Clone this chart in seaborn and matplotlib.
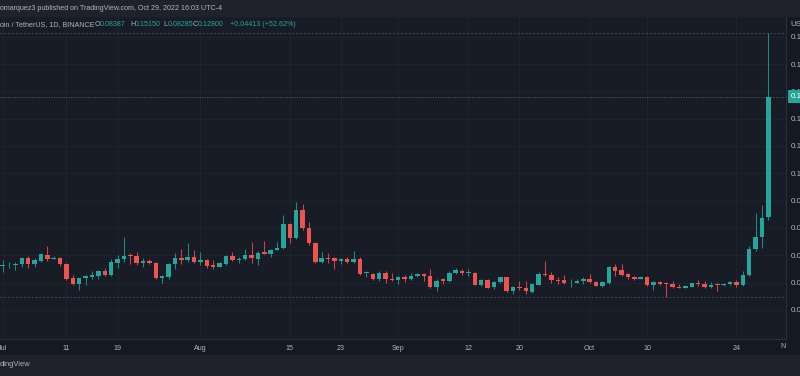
import matplotlib
matplotlib.use("Agg")
import numpy as np
import pandas as pd
import matplotlib.pyplot as plt
import matplotlib.transforms as mtransforms
import seaborn as sns

# daily candles, Jul 1 -> Oct 29 2022
opens = [0.0661, 0.0663, 0.0663, 0.0668, 0.0691, 0.0668, 0.0680, 0.0702, 0.0687, 0.0690,
         0.0669, 0.0616, 0.0594, 0.0617, 0.0622, 0.0624, 0.0642, 0.0627, 0.0672, 0.0686,
         0.0701, 0.0697, 0.0671, 0.0679, 0.0673, 0.0617, 0.0622, 0.0669, 0.0689, 0.0684,
         0.0694, 0.0677, 0.0683, 0.0663, 0.0658, 0.0668, 0.0696, 0.0683, 0.0686, 0.0700,
         0.0687, 0.0711, 0.0705, 0.0720, 0.0726, 0.0816, 0.0762, 0.0866, 0.0800, 0.0746,
         0.0674, 0.0690, 0.0690, 0.0680, 0.0686, 0.0674, 0.0687, 0.0634, 0.0633, 0.0614,
         0.0636, 0.0613, 0.0610, 0.0622, 0.0612, 0.0624, 0.0630, 0.0624, 0.0585, 0.0612,
         0.0607, 0.0636, 0.0643, 0.0635, 0.0636, 0.0592, 0.0610, 0.0583, 0.0601, 0.0619,
         0.0571, 0.0585, 0.0581, 0.0567, 0.0592, 0.0633, 0.0629, 0.0610, 0.0610, 0.0601,
         0.0600, 0.0607, 0.0614, 0.0603, 0.0589, 0.0599, 0.0657, 0.0645, 0.0631, 0.0620,
         0.0613, 0.0620, 0.0591, 0.0601, 0.0596, 0.0594, 0.0585, 0.0581, 0.0585, 0.0597,
         0.0596, 0.0584, 0.0594, 0.0590, 0.0595, 0.0602, 0.0590, 0.0627, 0.0723, 0.0766,
         0.08387]
highs = [0.0683, 0.0677, 0.0677, 0.0694, 0.0697, 0.0689, 0.0707, 0.0734, 0.0697, 0.0694,
         0.0673, 0.0627, 0.0618, 0.0629, 0.0642, 0.0646, 0.0652, 0.0686, 0.0701, 0.0768,
         0.0707, 0.0713, 0.0691, 0.0686, 0.0677, 0.0627, 0.0672, 0.0707, 0.0722, 0.0744,
         0.0719, 0.0713, 0.0687, 0.0683, 0.0674, 0.0701, 0.0713, 0.0694, 0.0724, 0.0749,
         0.0716, 0.0753, 0.0722, 0.0749, 0.0848, 0.0819, 0.0894, 0.0888, 0.0821, 0.0749,
         0.0711, 0.0707, 0.0694, 0.0691, 0.0694, 0.0717, 0.0694, 0.0642, 0.0636, 0.0641,
         0.0641, 0.0634, 0.0624, 0.0628, 0.0636, 0.0636, 0.0634, 0.0650, 0.0612, 0.0616,
         0.0641, 0.0652, 0.0651, 0.0651, 0.0640, 0.0614, 0.0612, 0.0606, 0.0622, 0.0622,
         0.0588, 0.0605, 0.0607, 0.0600, 0.0639, 0.0680, 0.0638, 0.0619, 0.0629, 0.0612,
         0.0612, 0.0619, 0.0631, 0.0607, 0.0605, 0.0662, 0.0667, 0.0667, 0.0636, 0.0624,
         0.0623, 0.0624, 0.0607, 0.0606, 0.0603, 0.0607, 0.0594, 0.0590, 0.0600, 0.0610,
         0.0606, 0.0601, 0.0597, 0.0600, 0.0607, 0.0608, 0.0641, 0.0735, 0.0854, 0.0884,
         0.15150]
lows = [0.0638, 0.0652, 0.0646, 0.0658, 0.0652, 0.0658, 0.0677, 0.0679, 0.0685, 0.0662,
        0.0610, 0.0590, 0.0572, 0.0592, 0.0614, 0.0614, 0.0624, 0.0624, 0.0654, 0.0674,
        0.0667, 0.0664, 0.0658, 0.0668, 0.0613, 0.0597, 0.0614, 0.0650, 0.0668, 0.0677,
        0.0671, 0.0664, 0.0652, 0.0650, 0.0656, 0.0664, 0.0679, 0.0672, 0.0683, 0.0673,
        0.0664, 0.0705, 0.0694, 0.0719, 0.0722, 0.0744, 0.0760, 0.0792, 0.0738, 0.0671,
        0.0671, 0.0673, 0.0649, 0.0668, 0.0671, 0.0671, 0.0628, 0.0619, 0.0610, 0.0607,
        0.0597, 0.0607, 0.0595, 0.0603, 0.0610, 0.0622, 0.0607, 0.0579, 0.0571, 0.0594,
        0.0603, 0.0630, 0.0628, 0.0624, 0.0590, 0.0589, 0.0579, 0.0578, 0.0597, 0.0567,
        0.0558, 0.0573, 0.0558, 0.0563, 0.0590, 0.0624, 0.0597, 0.0594, 0.0596, 0.0583,
        0.0597, 0.0594, 0.0597, 0.0588, 0.0585, 0.0596, 0.0625, 0.0624, 0.0612, 0.0610,
        0.0612, 0.0589, 0.0573, 0.0591, 0.0548, 0.0579, 0.0579, 0.0579, 0.0584, 0.0589,
        0.0581, 0.0581, 0.0569, 0.0589, 0.0591, 0.0585, 0.0588, 0.0624, 0.0717, 0.0725,
        0.08285]
closes = [0.0663, 0.0664, 0.0669, 0.0691, 0.0668, 0.0683, 0.0703, 0.0687, 0.0691, 0.0668,
          0.0614, 0.0594, 0.0617, 0.0623, 0.0628, 0.0642, 0.0627, 0.0674, 0.0686, 0.0698,
          0.0697, 0.0671, 0.0679, 0.0673, 0.0616, 0.0623, 0.0669, 0.0689, 0.0684, 0.0694,
          0.0677, 0.0683, 0.0662, 0.0658, 0.0671, 0.0696, 0.0683, 0.0686, 0.0700, 0.0689,
          0.0710, 0.0706, 0.0719, 0.0728, 0.0816, 0.0762, 0.0866, 0.0799, 0.0745, 0.0674,
          0.0690, 0.0687, 0.0680, 0.0685, 0.0674, 0.0686, 0.0631, 0.0637, 0.0614, 0.0636,
          0.0612, 0.0610, 0.0620, 0.0613, 0.0625, 0.0630, 0.0624, 0.0585, 0.0607, 0.0607,
          0.0636, 0.0645, 0.0634, 0.0639, 0.0592, 0.0610, 0.0581, 0.0602, 0.0619, 0.0571,
          0.0583, 0.0579, 0.0568, 0.0595, 0.0631, 0.0627, 0.0608, 0.0606, 0.0599, 0.0603,
          0.0607, 0.0614, 0.0602, 0.0589, 0.0601, 0.0657, 0.0643, 0.0629, 0.0619, 0.0613,
          0.0620, 0.0591, 0.0601, 0.0594, 0.0594, 0.0585, 0.0581, 0.0588, 0.0597, 0.0594,
          0.0584, 0.0592, 0.0590, 0.0596, 0.0602, 0.0590, 0.0628, 0.0723, 0.0767, 0.0838,
          0.12800]

tick_dates = ["2022-07-01", "2022-07-11", "2022-07-19", "2022-08-01", "2022-08-15", "2022-08-23",
              "2022-09-01", "2022-09-12", "2022-09-20", "2022-10-01", "2022-10-10", "2022-10-24"]
tick_labels = ["Jul", "11", "19", "Aug", "15", "23", "Sep", "12", "20", "Oct", "10", "24"]
price_ticks = [0.05, 0.06, 0.07, 0.08, 0.09, 0.10, 0.11, 0.12, 0.13, 0.14, 0.15]

BG = "#181c27"
PANEL = "#1f222d"
AXIS_BG = "#151924"
GRID = "#20242f"
TXT = "#b2b5be"
UP = "#26a69a"
DOWN = "#ef5350"
FS = 5.1

sns.set_theme(style="dark", rc={"axes.facecolor": BG, "figure.facecolor": AXIS_BG})
plt.rcParams["font.family"] = ["Liberation Sans", "DejaVu Sans"]

df = pd.DataFrame({"open": opens, "high": highs, "low": lows, "close": closes})
df["date"] = pd.date_range("2022-07-01", periods=len(df), freq="D")
df["up"] = df["close"] >= df["open"]
df["color"] = np.where(df["up"], UP, DOWN)
df["wick"] = np.where(df["up"], "#1f8a80", "#c9474a")
df["bottom"] = df[["open", "close"]].min(axis=1)
df["height"] = (df["close"] - df["open"]).abs().clip(lower=0.0003)

fig = plt.figure(figsize=(8, 3.76), dpi=100)
ax = fig.add_axes([0, 37 / 376, 786 / 800, 323 / 376])

# wicks then bodies
ax.vlines(df["date"], df["low"], df["high"], colors=df["wick"], linewidth=0.75, zorder=2)
ax.bar(df["date"], df["height"], bottom=df["bottom"], width=0.7, color=df["color"],
       linewidth=0, zorder=3)

# visible-range high / low and last price lines
ax.axhline(df["high"].max(), color="#444855", lw=0.7, ls=(0, (2, 2)), zorder=1)
ax.axhline(df["low"].min(), color="#444855", lw=0.7, ls=(0, (2, 2)), zorder=1)
ax.axhline(closes[-1], color="#3a6a68", lw=0.7, ls=(0, (1, 1.5)), zorder=1)

t0 = df["date"].iloc[0]
ax.set_xlim(t0 - pd.Timedelta(days=0.42), t0 + pd.Timedelta(days=122.77))
ax.set_ylim(0.03936, 0.15757)

ax.set_xticks(pd.to_datetime(tick_dates))
ax.set_xticklabels(tick_labels)
ax.yaxis.tick_right()
ax.set_yticks(price_ticks)
ax.set_yticklabels([f"{p:.2f}" for p in price_ticks])
ax.tick_params(axis="x", length=0, pad=4, labelsize=FS, labelcolor=TXT)
ax.tick_params(axis="y", length=0, pad=3.5, labelsize=5.8, labelcolor=TXT)
ax.grid(True, color=GRID, lw=0.7)
for side in ["top", "left"]:
    ax.spines[side].set_visible(False)
for side in ["right", "bottom"]:
    ax.spines[side].set_color("#2a2e39")
    ax.spines[side].set_linewidth(0.8)

# last price tag on the scale
trans = mtransforms.blended_transform_factory(ax.transAxes, ax.transData)
ax.text(1 + 5 / 786, closes[-1], f"{closes[-1]:.3f}", transform=trans, ha="left", va="center",
        fontsize=5.8, color="white", clip_on=False, zorder=5,
        bbox=dict(boxstyle="square,pad=0.35", fc=UP, ec="none"))

# header, footer bands
fig.patches.append(plt.Rectangle((0, 1 - 16 / 376), 1, 16 / 376, transform=fig.transFigure,
                                 color=PANEL, zorder=0))
fig.patches.append(plt.Rectangle((0, 0), 1, 21 / 376, transform=fig.transFigure,
                                 color=PANEL, zorder=0))

fig.text(0, 1 - 9 / 376, "omarquez3 published on TradingView.com, Oct 29, 2022 16:03 UTC-4",
         fontsize=FS, color=TXT, va="center")
fig.text(0, 1 - 25 / 376, "oin / TetherUS, 1D, BINANCE", fontsize=FS, color=TXT, va="center")
ohlc = [("O", 95, "0.08387"), ("H", 130, "0.15150"), ("L", 163, "0.08285"), ("C", 193, "0.12800")]
for lab, xp, val in ohlc:
    fig.text(xp / 800, 1 - 25 / 376, lab, fontsize=FS, color=TXT, va="center")
    fig.text((xp + 5) / 800, 1 - 25 / 376, val, fontsize=FS, color=UP, va="center")
fig.text(230 / 800, 1 - 25 / 376, "+0.04413 (+52.62%)", fontsize=FS, color=UP, va="center")
fig.text(790 / 800, 1 - 24 / 376, "USDT", fontsize=5.8, color=TXT, va="center")
fig.text(786 / 800, 1 - 347 / 376, "N", fontsize=FS, color=TXT, va="center", ha="right")
fig.text(0, 1 - 365 / 376, "dingView", fontsize=FS + 0.3, color=TXT, va="center")

fig.savefig("out.png", dpi=100, facecolor=fig.get_facecolor())
